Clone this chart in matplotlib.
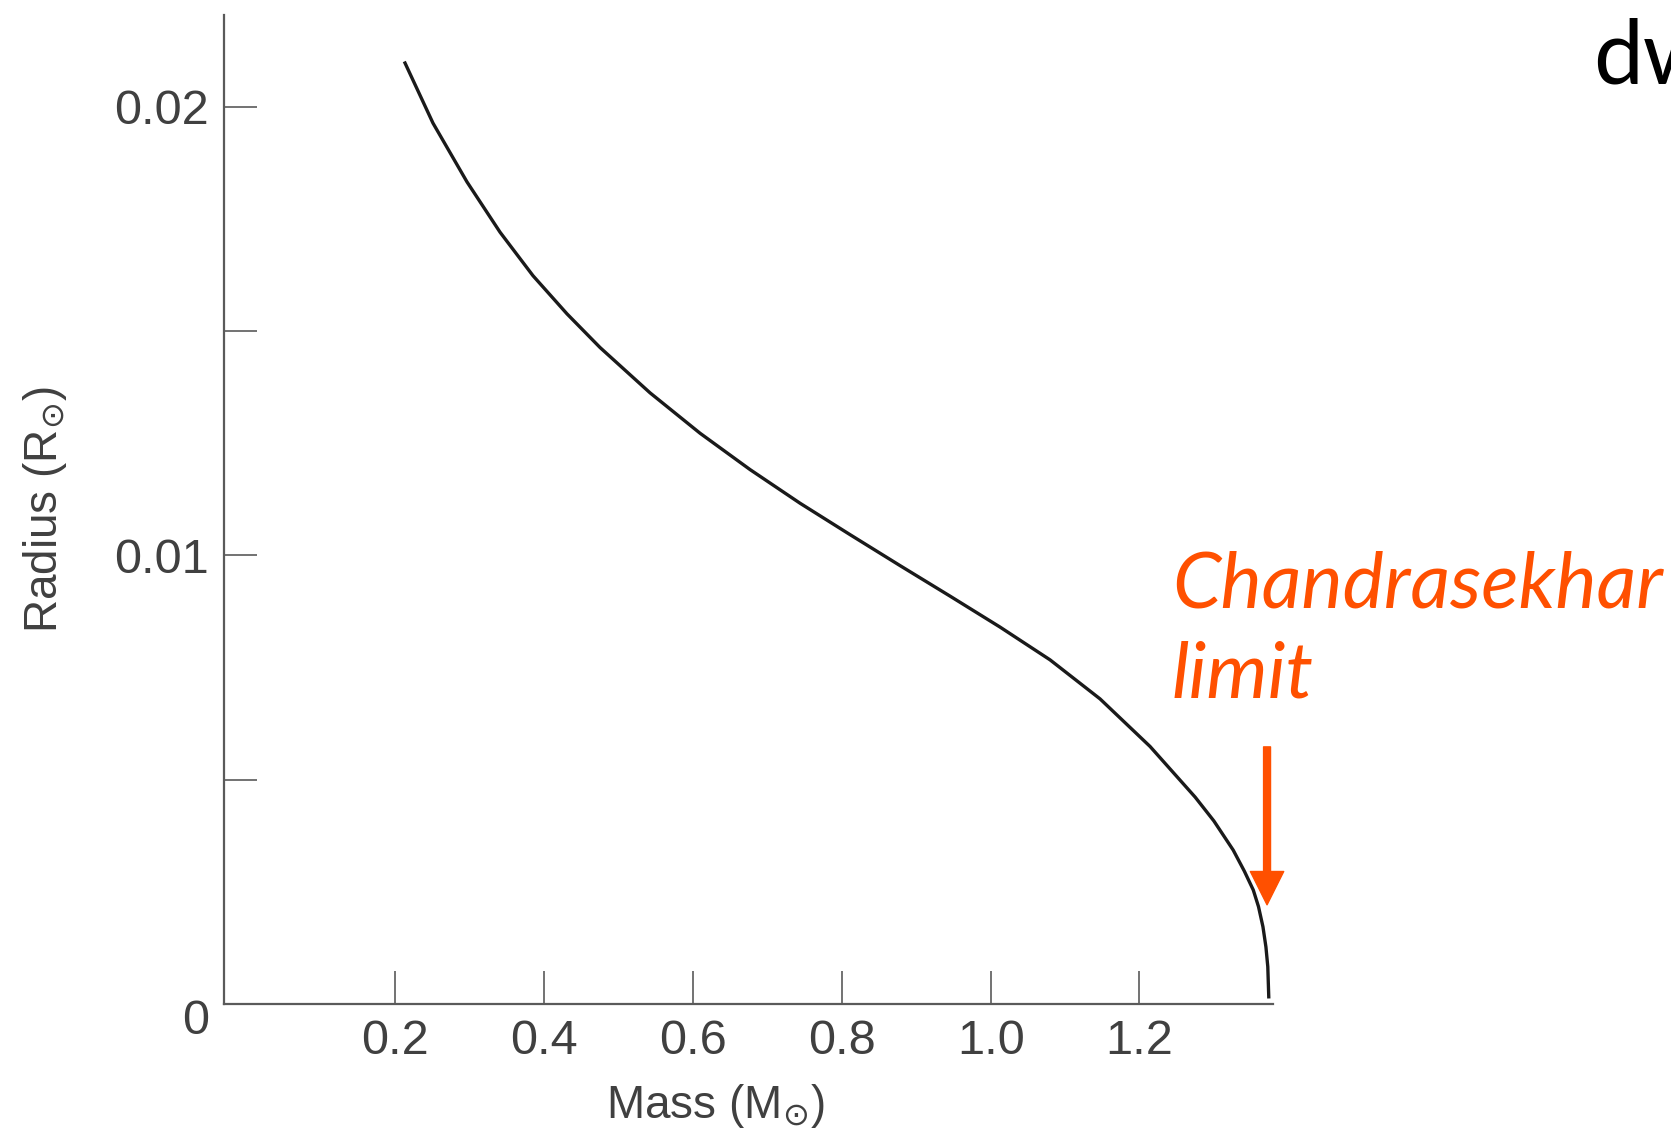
import matplotlib
matplotlib.use("Agg")
import matplotlib.pyplot as plt

# Радиус белого карлика в зависимости от массы
mass = [0.2129, 0.2505, 0.2962, 0.3406, 0.3849, 0.4306, 0.4750, 0.5422,
        0.6094, 0.6766, 0.7438, 0.8110, 0.8782, 0.9454, 1.0126, 1.0798,
        1.1470, 1.2142, 1.2749, 1.3000, 1.3260, 1.3410, 1.3530, 1.3600,
        1.3660, 1.3700, 1.3725, 1.3738]
radius = [0.02097, 0.01963, 0.01832, 0.01720, 0.01623, 0.01538, 0.01463,
          0.01362, 0.01272, 0.01191, 0.01116, 0.01046, 0.00977, 0.00909,
          0.00840, 0.00767, 0.00680, 0.00574, 0.00461, 0.00408, 0.00343,
          0.00296, 0.00254, 0.00217, 0.00172, 0.00127, 0.00083, 0.00016]

x_ticks = [0.2, 0.4, 0.6, 0.8, 1.0, 1.2]
x_labels = ["0.2", "0.4", "0.6", "0.8", "1.0", "1.2"]
y_ticks = [0.005, 0.01, 0.015, 0.02]
y_labels = ["", "0.01", "", "0.02"]

# Стрелка к пределу Чандрасекара
limit_mass = 1.3715
arrow_top, arrow_tip = 0.00573, 0.00221

axis_col = "#5a5a5a"
text_col = "#404040"
orange = "#ff5000"

plt.rcParams["font.family"] = ["Liberation Sans", "DejaVu Sans"]

fig = plt.figure(figsize=(16.71, 11.3), dpi=100)
ax = fig.add_axes([224 / 1671, 126 / 1130, 1049 / 1671, 989 / 1130])

ax.plot(mass, radius, color="#1a1a1a", lw=2.4, solid_joinstyle="round")

ax.set_xlim(-0.0304, 1.3795)
ax.set_ylim(0, 0.02204)

for s in ["top", "right"]:
    ax.spines[s].set_visible(False)
for s in ["left", "bottom"]:
    ax.spines[s].set_color(axis_col)
    ax.spines[s].set_linewidth(1.6)

ax.set_xticks(x_ticks)
ax.set_xticklabels(x_labels)
ax.set_yticks(y_ticks)
ax.set_yticklabels(y_labels)
ax.tick_params(direction="in", length=23.5, width=1.2, color=axis_col,
               labelcolor=text_col, labelsize=35, pad=11)

# "0" в углу стоит чуть ниже оси
ax.text(-0.014, -0.0004, "0", transform=ax.get_yaxis_transform(),
        ha="right", va="center", fontsize=35, color=text_col)

ax.set_xlabel("Mass (M$_{\\odot}$)", fontsize=33, color=text_col, va="center")
ax.xaxis.set_label_coords(0.468, -0.103)
ax.set_ylabel("Radius (R$_{\\odot}$)", fontsize=33, color=text_col, va="center")
ax.yaxis.set_label_coords(-0.171, 0.5)

ax.annotate("", xy=(limit_mass, arrow_tip), xytext=(limit_mass, arrow_top),
            arrowprops=dict(color=orange, width=5, headwidth=24,
                            headlength=24, shrink=0), annotation_clip=False)

fig.text(1172 / 1671, 1 - 607 / 1130, "Chandrasekhar", color=orange,
         fontsize=56, family="Lato", style="italic", va="baseline")
fig.text(1172 / 1671, 1 - 697 / 1130, "limit", color=orange,
         fontsize=56, family="Lato", style="italic", va="baseline")

fig.text(1593 / 1671, 1 - 83 / 1130, "dw", color="black",
         fontsize=64, family="Lato", va="baseline")

plt.savefig("out.png", dpi=100)
